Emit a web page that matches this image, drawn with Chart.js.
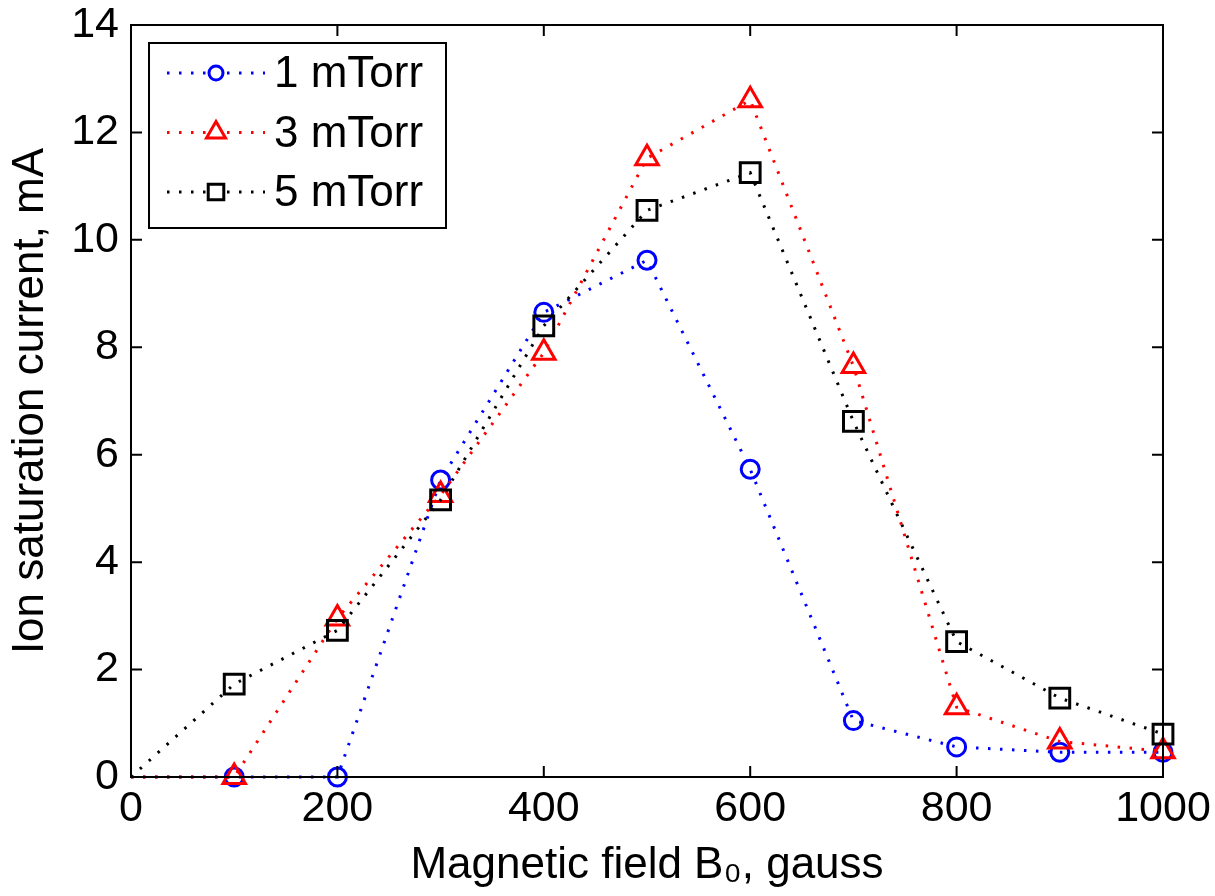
<!DOCTYPE html>
<html>
<head>
<meta charset="utf-8">
<script src="https://cdn.jsdelivr.net/npm/chart.js@4.4.1/dist/chart.umd.min.js"></script>
<style>
  html, body { margin: 0; padding: 0; background: #fff; }
  canvas { display: block; }
</style>
</head>
<body>
<canvas id="grafico" width="1215" height="896"></canvas>
<script>
// campo magnetico (gauss)
const campoGauss = [0, 100, 200, 300, 400, 500, 600, 700, 800, 900, 1000];
// corriente de saturacion ionica (mA) por presion
const serie1mTorr = [0, 0, 0, 5.53, 8.65, 9.62, 5.73, 1.05, 0.56, 0.46, 0.46];
const serie3mTorr = [0, 0, 2.95, 5.25, 7.9, 11.52, 12.6, 7.65, 1.3, 0.66, 0.48];
const serie5mTorr = [0, 1.73, 2.73, 5.16, 8.4, 10.55, 11.25, 6.62, 2.52, 1.47, 0.8];
const nombresSeries = ['1 mTorr', '3 mTorr', '5 mTorr'];
const ticksX = [0, 200, 400, 600, 800, 1000];
const ticksY = [0, 2, 4, 6, 8, 10, 12, 14];

const fuente = "'Liberation Sans', Arial, sans-serif";

function puntos(valores) {
    return campoGauss.map((x, i) => ({ x: x, y: valores[i] }));
}

// sin marcador en el origen
function radios(r) {
    return campoGauss.map(x => x === 0 ? 0 : r);
}

const estiloComun = {
    borderWidth: 3,
    borderDash: [2.5, 9.5],
    backgroundColor: 'rgba(0,0,0,0)',
    pointBackgroundColor: 'rgba(0,0,0,0)',
    pointBorderWidth: 3,
    showLine: true,
    fill: false,
    tension: 0,
    clip: false
};

const datasets = [
    Object.assign({}, estiloComun, {
        label: nombresSeries[0], data: puntos(serie1mTorr),
        borderColor: '#0000ff', pointBorderColor: '#0000ff',
        pointStyle: 'circle', pointRadius: radios(9), order: 3
    }),
    Object.assign({}, estiloComun, {
        label: nombresSeries[1], data: puntos(serie3mTorr),
        borderColor: '#ff0000', pointBorderColor: '#ff0000',
        pointStyle: 'triangle', pointRadius: radios(13), order: 2
    }),
    Object.assign({}, estiloComun, {
        label: nombresSeries[2], data: puntos(serie5mTorr),
        borderColor: '#000000', pointBorderColor: '#000000',
        pointStyle: 'rect', pointRadius: radios(14), order: 1
    })
];

// Marco tipo MATLAB con ticks hacia adentro y leyenda dentro del area
const marcoYLeyenda = {
    id: 'marcoYLeyenda',
    afterDraw(chart) {
        const ctx = chart.ctx;
        const a = chart.chartArea;
        const sx = chart.scales.x;
        const sy = chart.scales.y;
        const largo = 11;
        ctx.save();
        ctx.strokeStyle = '#000';
        ctx.lineWidth = 2;
        ctx.setLineDash([]);
        ctx.strokeRect(a.left, a.top, a.right - a.left, a.bottom - a.top);
        ctx.beginPath();
        ticksX.forEach(v => {
            const px = sx.getPixelForValue(v);
            ctx.moveTo(px, a.bottom); ctx.lineTo(px, a.bottom - largo);
            ctx.moveTo(px, a.top); ctx.lineTo(px, a.top + largo);
        });
        ticksY.forEach(v => {
            const py = sy.getPixelForValue(v);
            ctx.moveTo(a.left, py); ctx.lineTo(a.left + largo, py);
            ctx.moveTo(a.right, py); ctx.lineTo(a.right - largo, py);
        });
        ctx.stroke();

        // leyenda
        const caja = { x: a.left + 18, y: a.top + 18, w: 297, h: 185 };
        ctx.fillStyle = '#fff';
        ctx.fillRect(caja.x, caja.y, caja.w, caja.h);
        ctx.lineWidth = 2;
        ctx.strokeRect(caja.x, caja.y, caja.w, caja.h);
        chart.data.datasets.forEach((ds, i) => {
            const yy = caja.y + 30 + i * 59.5;
            const x0 = caja.x + 18, x1 = caja.x + 116, xm = caja.x + 67;
            ctx.strokeStyle = ds.borderColor;
            ctx.lineWidth = 3;
            ctx.setLineDash(ds.borderDash);
            ctx.beginPath();
            ctx.moveTo(x0, yy); ctx.lineTo(x1, yy);
            ctx.stroke();
            ctx.setLineDash([]);
            ctx.lineWidth = 3;
            const r = { circle: 7, triangle: 11, rect: 11 }[ds.pointStyle];
            ctx.fillStyle = '#fff';
            Chart.helpers.drawPoint(ctx, { pointStyle: ds.pointStyle, radius: r, rotation: 0, borderWidth: 3 }, xm, yy);
            ctx.fillStyle = '#000';
            ctx.font = '44px ' + fuente;
            ctx.textAlign = 'left';
            ctx.textBaseline = 'middle';
            ctx.fillText(ds.label, caja.x + 125, yy + 2);
        });
        ctx.restore();
    }
};

new Chart(document.getElementById('grafico'), {
    type: 'scatter',
    data: { datasets: datasets },
    options: {
        responsive: false,
        animation: false,
        layout: { padding: { left: 0, top: 25, right: 52, bottom: 0 } },
        plugins: { legend: { display: false }, tooltip: { enabled: false } },
        scales: {
            x: {
                type: 'linear', min: 0, max: 1000,
                grid: { display: false, drawTicks: false },
                border: { display: false },
                afterFit: s => { s.height = 119; s.paddingLeft = 0; s.paddingRight = 0; },
                afterBuildTicks: s => { s.ticks = ticksX.map(v => ({ value: v })); },
                ticks: {
                    color: '#000', padding: 6, maxRotation: 0,
                    font: { size: 43, family: fuente },
                    callback: v => String(v)
                },
                title: {
                    display: true, text: 'Magnetic field B\u2080, gauss', color: '#000',
                    font: { size: 44, family: fuente }, padding: { top: 0, bottom: 4 }
                }
            },
            y: {
                type: 'linear', min: 0, max: 14,
                grid: { display: false, drawTicks: false },
                border: { display: false },
                afterFit: s => { s.width = 131; s.paddingTop = 0; s.paddingBottom = 0; },
                afterBuildTicks: s => { s.ticks = ticksY.map(v => ({ value: v })); },
                ticks: {
                    color: '#000', padding: 12,
                    font: { size: 43, family: fuente },
                    callback: v => String(v)
                },
                title: {
                    display: true, text: 'Ion saturation current, mA', color: '#000',
                    font: { size: 44, family: fuente }, padding: { top: 4, bottom: 0 }
                }
            }
        }
    },
    plugins: [marcoYLeyenda]
});
</script>
</body>
</html>
